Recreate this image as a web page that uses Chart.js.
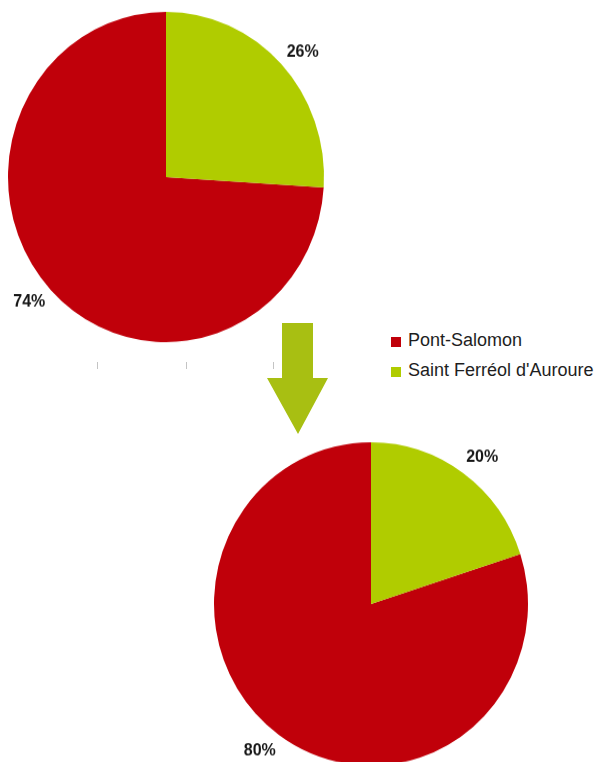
<!DOCTYPE html>
<html>
<head>
<meta charset="utf-8">
<script src="https://cdn.jsdelivr.net/npm/chart.js@4"></script>
<style>
  html, body { margin:0; padding:0; background:#fff; width:595px; height:762px; overflow:hidden; }
  #wrap { position:relative; width:595px; height:762px; }
  .pie { position:absolute; }
  #legend { position:absolute; left:391px; top:329px; font-family:"Liberation Sans", Arial, sans-serif; font-size:18px; color:#1e1e1e; }
  .item { position:relative; height:30px; line-height:22px; padding-left:17px; white-space:nowrap; }
  .sw { position:absolute; left:0; top:8px; width:10px; height:10px; }
  svg { position:absolute; left:0; top:0; }
</style>
</head>
<body>
<div id="wrap">
  <svg width="595" height="762" id="deco">
    <line x1="97.5" y1="362" x2="97.5" y2="369" stroke="#c4c4c4" stroke-width="1"/>
    <line x1="186.5" y1="362" x2="186.5" y2="369" stroke="#c4c4c4" stroke-width="1"/>
    <line x1="273.5" y1="362" x2="273.5" y2="369" stroke="#c4c4c4" stroke-width="1"/>
    <polygon points="282,323 313,323 313,378 328,378 298,434 267,378 282,378" fill="#a8bf12"/>
  </svg>
  <div class="pie" style="left:-34px;top:-23px;width:400px;height:400px;transform:scaleY(1.045);transform-origin:200px 200px;">
    <canvas id="c1" width="400" height="400"></canvas>
  </div>
  <div class="pie" style="left:171px;top:404px;width:400px;height:400px;transform:scaleY(1.03);transform-origin:200px 200px;">
    <canvas id="c2" width="400" height="400"></canvas>
  </div>
  <div id="legend"></div>
</div>
<script>
const categories = ["Pont-Salomon", "Saint Ferréol d'Auroure"];
const colors = ["#c0000a", "#b0cc00"];
const valuesBefore = [74, 26];
const valuesAfter = [80, 20];

// HTML legend
const leg = document.getElementById('legend');
categories.forEach((c, i) => {
  const d = document.createElement('div');
  d.className = 'item';
  const s = document.createElement('span');
  s.className = 'sw';
  s.style.background = colors[i];
  d.appendChild(s);
  d.appendChild(document.createTextNode(c));
  leg.appendChild(d);
});

const pctLabels = {
  id: 'pctLabels',
  afterDatasetsDraw(chart) {
    const ctx = chart.ctx;
    const ds = chart.data.datasets[0];
    const total = ds.data.reduce((a, b) => a + b, 0);
    const meta = chart.getDatasetMeta(0);
    ctx.save();
    ctx.font = 'bold 16px "Liberation Sans", Arial, sans-serif';
    ctx.fillStyle = '#161616';
    ctx.textAlign = 'center';
    ctx.textBaseline = 'middle';
    meta.data.forEach((arc, i) => {
      const p = arc.getProps(['x', 'y', 'startAngle', 'endAngle', 'outerRadius'], true);
      const mid = (p.startAngle + p.endAngle) / 2 + 0.035;
      const r = p.outerRadius * 1.15;
      const x = p.x + Math.cos(mid) * r;
      const y = p.y + Math.sin(mid) * r;
      ctx.fillText(Math.round(ds.data[i] / total * 100) + '%', x, y);
    });
    ctx.restore();
  }
};

function makePie(id, values, pad) {
  const total = values.reduce((a, b) => a + b, 0);
  new Chart(document.getElementById(id), {
    type: 'pie',
    data: {
      labels: categories,
      datasets: [{ data: values, backgroundColor: colors, borderWidth: 0 }]
    },
    options: {
      responsive: false,
      animation: false,
      rotation: values[1] / total * 360,
      layout: { padding: pad },
      plugins: { legend: { display: false }, tooltip: { enabled: false } }
    },
    plugins: [pctLabels]
  });
}
makePie('c1', valuesBefore, 42);
makePie('c2', valuesAfter, 43);
</script>
</body>
</html>
